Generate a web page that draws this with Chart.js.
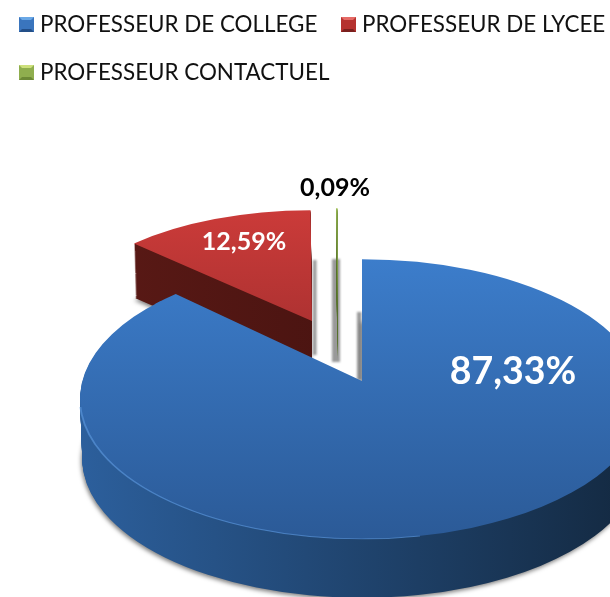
<!DOCTYPE html>
<html lang="fr">
<head>
  <meta charset="UTF-8">
  <title>Professeurs</title>
  <style>
    html, body { margin: 0; padding: 0; background: #fff; overflow: hidden; }
    #wrap { position: relative; width: 610px; height: 597px; overflow: hidden; }
    canvas { position: absolute; left: 0; top: 0; }
    .legend-item {
      position: absolute;
      display: flex;
      align-items: center;
      font-family: Lato, sans-serif;
      font-size: 22.4px;
      line-height: 28px;
      color: #111;
      white-space: nowrap;
    }
    .legend-box {
      display: inline-block;
      box-sizing: border-box;
      width: 15px;
      height: 15px;
      margin-right: 6px;
      border-style: solid;
      border-width: 3px;
    }
  </style>
</head>
<body>
<div id="wrap">
  <canvas id="chart" width="610" height="597"></canvas>
  <div id="legend"></div>
</div>

<script src="https://cdn.jsdelivr.net/npm/chart.js"></script>
<script>
  const categories = ['PROFESSEUR DE COLLEGE', 'PROFESSEUR DE LYCEE', 'PROFESSEUR CONTACTUEL'];
  const shares = [87.33, 12.59, 0.09];

  const baseColors = ['#3a75bd', '#b5322f', '#8fae4e'];
  const faceTop = ['#3c7dcb', '#cb3b39', '#a6c85c'];
  const faceBottom = ['#2b5a97', '#92292a', '#8fae4e'];
  const wallLeft = ['#2c5f9c', '#5c1a16', '#55702a'];
  const wallRight = ['#13283f', '#3c0f0d', '#55702a'];
  const legendLight = ['#6aa8e6', '#e56a66', '#cde07c'];
  const legendDark = ['#234f88', '#7a1f1d', '#6c8936'];

  // where each exploded slice ends up on screen (cx, cy, radius, squash, wall depth)
  const sliceLayout = [
    { cx: 362, cy: 399, r: 282, sy: 0.496, depth: 60 },
    { cx: 312, cy: 321, r: 249, sy: 0.445, depth: 54 },
    { cx: 337.5, cy: 308, r: 225, sy: 0.445, depth: 52 }
  ];
  const drawOrder = [1, 2, 0];
  const labelPos = [[513, 372], [244, 242], [335, 188]];
  const labelFont = ['bold 37.5px Lato, sans-serif', 'bold 25px Lato, sans-serif', 'bold 25px Lato, sans-serif'];
  const labelColor = ['#fff', '#fff', '#000'];
  const legendPos = [[19, 10], [341, 10], [19, 58]];

  // soft grey bars left behind the slices
  const shadowBars = [[313, 260, 3.5, 95], [332, 259, 8, 103], [357, 312, 4.5, 68]];

  // the apex of the big slice sits above the ellipse centre (perspective)
  const apexLift = 18;
  const notchFix = 4.3 * Math.PI / 180;

  function place(ctx, el, s, dy, shrink) {
    const k = s.r * shrink / el.outerRadius;
    ctx.translate(s.cx, s.cy + dy);
    ctx.scale(k, k * s.sy);
    ctx.translate(-el.x, -el.y);
  }

  function drawWith(el, ctx, extra) {
    const saved = el.options;
    el.options = Object.assign({}, saved, extra);
    el.draw(ctx);
    el.options = saved;
  }

  function drawSlice(ctx, el, i) {
    const s = sliceLayout[i];
    const R = el.outerRadius;

    const wall = ctx.createLinearGradient(el.x - R, 0, el.x + R, 0);
    wall.addColorStop(0, wallLeft[i]);
    wall.addColorStop(1, wallRight[i]);
    for (let d = s.depth; d > 0; d--) {
      ctx.save();
      if (d === s.depth && i !== 2) {
        ctx.shadowColor = 'rgba(0,0,0,0.5)';
        ctx.shadowBlur = 4;
        ctx.shadowOffsetX = -1;
        ctx.shadowOffsetY = 2;
      }
      place(ctx, el, s, d, 1 - 0.008 * d / s.depth);
      drawWith(el, ctx, { backgroundColor: wall });
      ctx.restore();
    }

    const face = ctx.createLinearGradient(0, el.y - R, 0, el.y + R);
    face.addColorStop(0, faceTop[i]);
    face.addColorStop(1, faceBottom[i]);
    ctx.save();
    place(ctx, el, s, 0, 1);
    drawWith(el, ctx, { backgroundColor: face });
    if (i === 0) {
      const k = s.r / R;
      const apexY = el.y - apexLift / (k * s.sy);
      // overlaps the slice a little on purpose so no seam shows along its old edges
      ctx.beginPath();
      ctx.moveTo(el.x + 4, el.y + 30);
      ctx.arc(el.x, el.y, R, el.endAngle - 0.03, el.endAngle + notchFix);
      ctx.lineTo(el.x, apexY);
      ctx.lineTo(el.x + 4, apexY);
      ctx.closePath();
      ctx.fillStyle = face;
      ctx.fill();
    }
    ctx.restore();

    if (i === 0) {
      // lighter rim on the front-left edge
      ctx.save();
      ctx.beginPath();
      ctx.rect(0, s.cy + 8, 420, 200);
      ctx.clip();
      place(ctx, el, s, 0, 1);
      drawWith(el, ctx, { backgroundColor: face, borderWidth: 2, borderColor: 'rgba(95,155,225,0.6)' });
      ctx.restore();
    }
  }

  const pie3d = {
    id: 'pie3d',
    beforeDatasetsDraw(chart) {
      const ctx = chart.ctx;
      const arcs = chart.getDatasetMeta(0).data;

      ctx.save();
      ctx.filter = 'blur(1px)';
      ctx.fillStyle = 'rgba(70,70,70,0.55)';
      shadowBars.forEach(b => ctx.fillRect(b[0], b[1], b[2], b[3]));
      ctx.restore();

      drawOrder.forEach(i => drawSlice(ctx, arcs[i], i));

      ctx.save();
      ctx.textAlign = 'center';
      ctx.textBaseline = 'middle';
      shares.forEach((v, i) => {
        ctx.font = labelFont[i];
        ctx.fillStyle = labelColor[i];
        ctx.fillText(v.toFixed(2).replace('.', ',') + '%', labelPos[i][0], labelPos[i][1]);
      });
      ctx.restore();
      return false;
    }
  };

  new Chart(document.getElementById('chart').getContext('2d'), {
    type: 'pie',
    data: {
      labels: categories,
      datasets: [{
        data: shares,
        backgroundColor: baseColors,
        borderWidth: 0
      }]
    },
    options: {
      responsive: false,
      animation: false,
      plugins: {
        legend: { display: false },
        tooltip: { enabled: false }
      }
    },
    plugins: [pie3d]
  });

  const legendEl = document.getElementById('legend');
  categories.forEach((name, i) => {
    const item = document.createElement('div');
    item.className = 'legend-item';
    item.style.left = legendPos[i][0] + 'px';
    item.style.top = legendPos[i][1] + 'px';
    const box = document.createElement('span');
    box.className = 'legend-box';
    box.style.background = baseColors[i];
    box.style.borderColor = legendLight[i] + ' ' + baseColors[i] + ' ' + legendDark[i];
    item.appendChild(box);
    item.appendChild(document.createTextNode(name));
    legendEl.appendChild(item);
  });
</script>
</body>
</html>
